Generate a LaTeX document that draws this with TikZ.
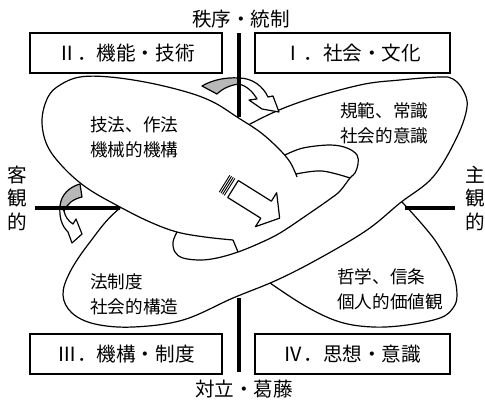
\documentclass[tikz,border=0pt]{standalone}
\usepackage{fontspec}
\setmainfont{Noto Sans CJK JP}
\begin{document}
\begin{tikzpicture}[x=0.75pt,y=-0.75pt,
 outline/.style={line width=0.9pt, line join=round},
 quadbox/.style={draw, line width=0.8pt, minimum height=30pt, inner sep=0pt, font=\fontsize{14.7}{17}\selectfont},
 headtext/.style={font=\fontsize{14.7}{17}\selectfont, inner sep=0pt},
 bodytext/.style={font=\fontsize{13.2}{18.75}\selectfont, align=left, inner sep=0pt},
 vtext/.style={font=\fontsize{14.7}{17.6}\selectfont, align=center, inner sep=0pt},
 axisline/.style={line width=3pt},
 stripe/.style={line width=0.7pt},
 twistgray/.style={outline, fill=black!28}]
\useasboundingbox (0,0) rectangle (485,405);

% lower-right lobe (behind)
\draw[outline] plot[smooth, tension=0.6] coordinates {(250,268) (270,283) (307,307) (340,322) (373,327) (407,325) (440,318) (453,308) (457,295) (453,273) (440,248) (427,230) (402,202) (385,186)};

% long ellipse upper-right / lower-left
\draw[outline, fill=white] plot[smooth cycle, tension=0.6] coordinates {(252,123) (300,102) (360,85) (400,80) (440,77) (453,79) (463,90) (467,107) (457,137) (433,177) (400,203) (367,230) (320,258) (277,280) (233,298) (183,320) (133,327) (95,324) (72,313) (63,295) (70,272) (90,242) (120,208) (185,162)};

% front ellipse with band
\fill[white] plot[smooth, tension=0.6] coordinates {(233,240) (205,237) (177,232) (150,222) (120,207) (87,188) (63,167) (47,145) (42,120) (48,97) (60,85) (80,77) (110,77) (150,83) (190,93) (215,103) (237,117) (260,132) (278,148) (290,162) (297,175)} -- plot[smooth, tension=0.6] coordinates {(297,175) (322,171) (350,178)} -- plot[smooth,tension=0.6] coordinates {(350,178) (340,191) (330,199) (307,215) (280,233) (260,243) (238,252)} -- cycle;
\draw[outline] plot[smooth, tension=0.6] coordinates {(233,240) (205,237) (177,232) (150,222) (120,207) (87,188) (63,167) (47,145) (42,120) (48,97) (60,85) (80,77) (110,77) (150,83) (190,93) (215,103) (237,117) (260,132) (278,148) (290,162) (297,177)};
\draw[outline] plot[smooth, tension=0.6] coordinates {(296,174) (322,171) (350,178)};
\draw[outline] plot[smooth, tension=0.6] coordinates {(285,155) (303,148) (330,145) (347,148) (357,155) (358,164) (355,173) (350,178) (340,191) (330,199) (307,215) (280,233) (260,243) (238,252) (217,258) (200,260) (183,258) (175,252) (173,242) (177,232)};
\draw[outline] (233,240) -- (238,252);

% central striped arrow
\begin{scope}[shift={(233,189)}, rotate=-32]
 \draw[stripe] (-10,-10) -- (-10,10);
 \draw[stripe] (-8,-10) -- (-8,10);
 \draw[stripe] (-6,-10) -- (-6,10);
 \draw[stripe] (-4,-10) -- (-4,10);
 \draw[outline, fill=white] (0,-10) -- (39,-10) -- (39,-20) -- (55,0) -- (39,20) -- (39,10) -- (0,10) -- cycle;
\end{scope}

% top curved arrow
\draw[twistgray] (202,86) .. controls (212,80) and (226,77) .. (239,78) -- (239,84) .. controls (230,85) and (222,89) .. (217,94) -- cycle;
\draw[outline, fill=white] (239,78) .. controls (252,78) and (263,86) .. (268,97) -- (273,96) -- (279,112) -- (262,109) -- (249,100) -- (257,99) .. controls (253,92) and (247,86) .. (239,84) -- cycle;

% left curved arrow
\draw[twistgray] (80,184) -- (82,197) .. controls (73,199) and (67,204) .. (64,211) -- (60,206) .. controls (61,195) and (69,187) .. (80,184) -- cycle;
\draw[outline, fill=white] (60,206) .. controls (59,218) and (62,226) .. (68,232) -- (72,243) -- (82,234) -- (76,219) -- (73,224) .. controls (68,221) and (65,216) .. (64,211) -- cycle;

% axis lines
\draw[axisline] (239,33) -- (239,117);
\draw[axisline] (239,298) -- (239,372);
\draw[axisline] (35,208) -- (120,208);
\draw[axisline] (405,208) -- (455,208);

% quadrant boxes
\node[quadbox, minimum width=144pt] (q2) at (126,53) {Ⅱ．機能・技術};
\node[quadbox, minimum width=146.25pt] (q1) at (352.5,53) {Ⅰ．社会・文化};
\node[quadbox, minimum width=144pt] (q3) at (126,354) {Ⅲ．機構・制度};
\node[quadbox, minimum width=146.25pt] (q4) at (352.5,354) {Ⅳ．思想・意識};

% axis labels
\node[headtext] (top) at (241,19) {秩序・統制};
\node[headtext] (bottom) at (244,389) {対立・葛藤};
\node[vtext] (left) at (17,198) {客\\観\\的};
\node[vtext] (right) at (475,198) {主\\観\\的};

% contents
\node[bodytext, anchor=west] (t2) at (90,137) {技法、作法\\機械的機構};
\node[bodytext, anchor=west] (t1) at (340,123) {規範、常識\\社会的意識};
\node[bodytext, anchor=west] (t3) at (90,294) {法制度\\社会的構造};
\node[bodytext, anchor=west] (t4) at (337,289) {哲学、信条\\個人的価値観};
\end{tikzpicture}
\end{document}
